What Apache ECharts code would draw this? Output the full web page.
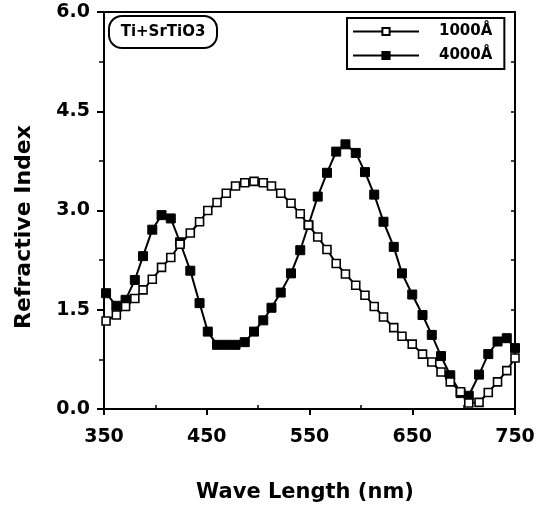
<!DOCTYPE html>
<html>
<head>
<meta charset="utf-8">
<script src="https://cdn.jsdelivr.net/npm/echarts@6/dist/echarts.min.js"></script>
<style>
  html, body { margin: 0; padding: 0; background: #fff; }
  #chart { width: 542px; height: 510px; }
</style>
</head>
<body>
<div id="chart"></div>
<script>
// Refractive index of Ti on SrTiO3 films versus wavelength, two thicknesses
const wavelength = [352, 362, 371, 380, 388, 397, 406, 415, 424, 434,
                    443, 451, 460, 469, 478, 487, 496, 505, 513, 522,
                    532, 541, 549, 558, 567, 576, 585, 595, 604, 613,
                    622, 632, 640, 650, 660, 669, 678, 687, 697, 705,
                    715, 724, 733, 742, 750];
const n1000 = [1.33, 1.42, 1.55, 1.67, 1.80, 1.96, 2.14, 2.29, 2.49, 2.66,
               2.83, 3.00, 3.12, 3.26, 3.37, 3.42, 3.44, 3.42, 3.37, 3.26,
               3.11, 2.95, 2.78, 2.60, 2.41, 2.20, 2.04, 1.87, 1.72, 1.55,
               1.39, 1.23, 1.10, 0.98, 0.83, 0.71, 0.56, 0.41, 0.26, 0.09,
               0.10, 0.25, 0.41, 0.58, 0.77];
const n4000 = [1.75, 1.56, 1.65, 1.95, 2.31, 2.71, 2.93, 2.88, 2.52, 2.09,
               1.60, 1.17, 0.97, 0.97, 0.97, 1.01, 1.17, 1.34, 1.53, 1.76,
               2.05, 2.40, 2.78, 3.21, 3.57, 3.89, 4.00, 3.87, 3.58, 3.24,
               2.83, 2.45, 2.05, 1.73, 1.42, 1.12, 0.80, 0.51, 0.24, 0.20,
               0.52, 0.83, 1.02, 1.07, 0.92];
const seriesNames = ['1000Å', '4000Å'];
const xTicks = { min: 350, max: 750, step: 100 };
const yTicks = { min: 0, max: 6, step: 1.5 };
const sampleLabel = 'Ti+SrTiO3';
const xTitle = 'Wave Length (nm)';
const yTitle = 'Refractive Index';

const FONT = '"DejaVu Sans", Arial, sans-serif';
const pairs = vals => wavelength.map((w, i) => [w, vals[i]]);

const chart = echarts.init(document.getElementById('chart'), null, { renderer: 'canvas' });

chart.setOption({
  animation: false,
  backgroundColor: '#fff',
  grid: {
    left: 104, right: 27, top: 12, bottom: 101,
    show: true, borderColor: '#000', borderWidth: 2
  },
  xAxis: {
    type: 'value',
    min: xTicks.min, max: xTicks.max, interval: xTicks.step,
    axisLine: { show: true, lineStyle: { color: '#000', width: 2 } },
    axisTick: { show: true, length: 6, lineStyle: { color: '#000', width: 2 } },
    minorTick: { show: true, splitNumber: 2, length: -4, lineStyle: { color: '#000', width: 1.5 } },
    splitLine: { show: false },
    axisLabel: {
      margin: 19, color: '#000', fontFamily: FONT, fontWeight: 'bold', fontSize: 19
    }
  },
  yAxis: [{
    type: 'value',
    min: yTicks.min, max: yTicks.max, interval: yTicks.step,
    axisLine: { show: true, lineStyle: { color: '#000', width: 2 } },
    axisTick: { show: true, length: 7, lineStyle: { color: '#000', width: 2 } },
    minorTick: { show: true, splitNumber: 2, length: 5, lineStyle: { color: '#000', width: 1.5 } },
    splitLine: { show: false },
    axisLabel: {
      margin: 14, color: '#000', fontFamily: FONT, fontWeight: 'bold', fontSize: 19,
      formatter: v => v.toFixed(1)
    }
  }, {
    type: 'value', position: 'right',
    min: yTicks.min, max: yTicks.max, interval: 0.75,
    axisLine: { show: true, lineStyle: { color: '#000', width: 2 } },
    axisTick: { show: true, inside: true, length: 4, lineStyle: { color: '#000', width: 1.5 } },
    splitLine: { show: false },
    axisLabel: { show: false }
  }],
  legend: {
    orient: 'vertical',
    left: 347, top: 18,
    padding: [6, 12, 6, 5],
    itemGap: 9,
    itemWidth: 66, itemHeight: 9,
    borderColor: '#000', borderWidth: 2,
    data: seriesNames,
    textStyle: {
      color: '#000', fontFamily: FONT, fontWeight: 'bold', fontSize: 15,
      padding: [0, 0, 0, 15]
    }
  },
  graphic: [{
    type: 'group', left: 108, top: 15,
    children: [{
      type: 'rect',
      shape: { x: 0, y: 0, width: 108, height: 32, r: 13 },
      style: { fill: '#fff', stroke: '#000', lineWidth: 2 }
    }, {
      type: 'text', x: 54, y: 16,
      style: {
        text: sampleLabel, fill: '#000', font: 'bold 15px ' + FONT,
        textAlign: 'center', textVerticalAlign: 'middle'
      }
    }]
  }, {
    type: 'text', x: 305, y: 493,
    style: {
      text: xTitle, fill: '#000', font: 'bold 21px ' + FONT,
      textAlign: 'center', textVerticalAlign: 'middle'
    }
  }, {
    type: 'text', x: 24, y: 227, rotation: Math.PI / 2,
    style: {
      text: yTitle, fill: '#000', font: 'bold 22px ' + FONT,
      textAlign: 'center', textVerticalAlign: 'middle'
    }
  }],
  series: [{
    name: seriesNames[0],
    type: 'line',
    data: pairs(n1000),
    symbol: 'rect', symbolSize: 8,
    lineStyle: { color: '#000', width: 2 },
    itemStyle: { color: '#fff', borderColor: '#000', borderWidth: 1.6 },
    z: 3
  }, {
    name: seriesNames[1],
    type: 'line',
    data: pairs(n4000),
    symbol: 'rect', symbolSize: 9,
    lineStyle: { color: '#000', width: 2 },
    itemStyle: { color: '#000', borderColor: '#000', borderWidth: 1 },
    z: 2
  }]
});
</script>
</body>
</html>
